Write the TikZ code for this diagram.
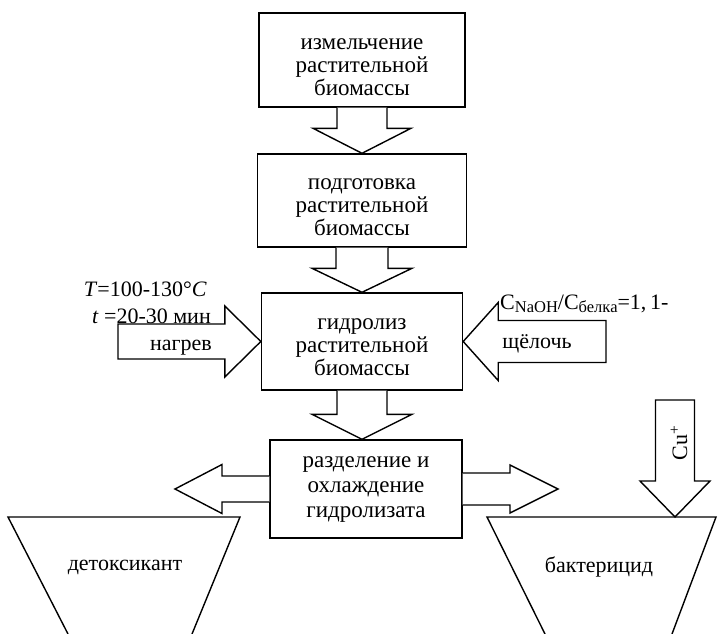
\documentclass[tikz,border=0pt]{standalone}
\usepackage{fontspec}
\setmainfont{Liberation Serif}
\usetikzlibrary{calc}
\begin{document}
\begin{tikzpicture}[x=1pt,y=-1pt,
  box/.style={draw, line width=1.4pt, inner sep=0pt},
  txt/.style={align=center, inner sep=0pt, font=\fontsize{23}{23}\selectfont},
  blk/.style={draw, line width=1.4pt, line join=miter, fill=white},
  trap/.style={draw, line width=1.4pt},
  lbl/.style={inner sep=0pt, font=\fontsize{22}{23}\selectfont}]
\useasboundingbox (0,0) rectangle (718,634);

% process boxes
\node[box, minimum width=206pt, minimum height=94pt] (b1) at (362,60) {};
\node[txt] (b1t) at ($(b1)+(0,7)$) {измельчение\\растительной\\биомассы};
\node[box, minimum width=209pt, minimum height=93pt] (b2) at (362,200.5) {};
\node[txt] (b2t) at ($(b2)+(0,7)$) {подготовка\\растительной\\биомассы};
\node[box, minimum width=201pt, minimum height=97pt] (b3) at (362,341.5) {};
\node[txt] (b3t) at ($(b3)+(0,6)$) {гидролиз\\растительной\\биомассы};
\node[box, minimum width=192pt, minimum height=98pt] (b4) at (366,489) {};
\node[txt] (b4t) at ($(b4)+(0,1)$) {разделение и\\[2pt]охлаждение\\[2pt]гидролизата};

% down block arrows
\draw[blk] ($(b1.south)+(-25,0)$) -- ($(b2.north)+(-25,-25)$) -- ($(b2.north)+(-49,-25)$) -- (b2.north)
  -- ($(b2.north)+(49,-25)$) -- ($(b2.north)+(25,-25)$) -- ($(b1.south)+(25,0)$);
\coordinate (t2) at (b3.north);
\draw[blk] ($(b2.south)+(-26,0)$) -- ($(t2)+(-26,-24)$) -- ($(t2)+(-50,-24)$) -- (t2)
  -- ($(t2)+(50,-24)$) -- ($(t2)+(26,-24)$) -- ($(b2.south)+(26,0)$);
\coordinate (t3) at (b3.south |- b4.north);
\draw[blk] ($(b3.south)+(-25,0)$) -- ($(t3)+(-25,-25)$) -- ($(t3)+(-50,-25)$) -- (t3)
  -- ($(t3)+(50,-25)$) -- ($(t3)+(25,-25)$) -- ($(b3.south)+(25,0)$);

% heating arrow (left, into b3)
\coordinate (hl) at (118,341.5);
\draw[blk] ($(hl)+(0,-17.5)$) -- ($(b3.west)+(-36,-17.5)$) -- ($(b3.west)+(-36,-35.5)$) -- (b3.west)
  -- ($(b3.west)+(-36,35.5)$) -- ($(b3.west)+(-36,17.5)$) -- ($(hl)+(0,17.5)$) -- cycle;
\node[lbl] (nagrev) at (181,348) {нагрев};

% alkali arrow (right, into b3)
\coordinate (hr) at (606,341.5);
\draw[blk] ($(hr)+(0,-21)$) -- ($(b3.east)+(35,-21)$) -- ($(b3.east)+(35,-39)$) -- (b3.east)
  -- ($(b3.east)+(35,39)$) -- ($(b3.east)+(35,21)$) -- ($(hr)+(0,21)$) -- cycle;
\node[lbl] (shch) at (537,344) {щёлочь};

% conditions
\node[lbl, anchor=east] (temp) at (207,289) {\textit{T}=100-130°\textit{C}};
\node[lbl, anchor=east] (time) at (211,316) {\textit{t} =20-30 мин};
\node[lbl, anchor=west] (ratio) at (500,304) {C\raisebox{-0.3ex}{\fontsize{16.5}{16.5}\selectfont NaOH}/C\raisebox{-0.3ex}{\fontsize{16.5}{16.5}\selectfont белка}=1,\,1-};

% output arrows from b4
\coordinate (dl) at (175,489);
\draw[blk] ($(b4.west)+(0,-13)$) -- ($(dl)+(47,-13)$) -- ($(dl)+(47,-24.5)$) -- (dl)
  -- ($(dl)+(47,24.5)$) -- ($(dl)+(47,13)$) -- ($(b4.west)+(0,13)$);
\coordinate (dr) at (558,489);
\draw[blk] ($(b4.east)+(0,-16)$) -- ($(dr)+(-48,-16)$) -- ($(dr)+(-48,-24)$) -- (dr)
  -- ($(dr)+(-48,24)$) -- ($(dr)+(-48,16)$) -- ($(b4.east)+(0,16)$);

% trapezoids (products)
\draw[trap] (68,634) -- (8,517) -- (240,517) -- (192,634);
\node[lbl] (detox) at (125,567) {детоксикант};
\draw[trap] (545,634) -- (487,517) -- (716,517) -- (672,634);
\node[lbl] (bact) at (599,567) {бактерицид};

% Cu+ arrow
\coordinate (cutop) at (675,400);
\coordinate (cutip) at (675,517);
\draw[blk] ($(cutop)+(-19.5,0)$) -- ($(cutip)+(-19.5,-36)$) -- ($(cutip)+(-35,-36)$) -- (cutip)
  -- ($(cutip)+(35,-36)$) -- ($(cutip)+(19.5,-36)$) -- ($(cutop)+(19.5,0)$) -- cycle;
\node[lbl, rotate=90] (cu) at (679,443) {Cu\textsuperscript{+}};
\end{tikzpicture}
\end{document}
